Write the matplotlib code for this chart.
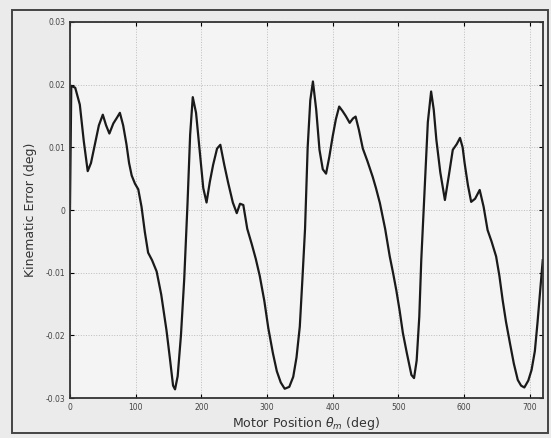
import numpy as np
import matplotlib
matplotlib.use('Agg')
import matplotlib.pyplot as plt
from matplotlib.patches import Rectangle

# motor position (deg) and kinematic error (deg)
motor_pos = [0, 2, 8, 15, 21, 27, 32, 38, 44, 50, 55, 60, 66, 72, 76, 81, 86, 90, 94, 99,
             104, 109, 114, 119, 125, 132, 139, 147, 152, 157, 160, 164, 169, 174, 179, 183, 187,
             192, 198, 203, 208, 213, 218, 224, 229, 235, 241, 248, 254, 259, 264, 270, 277,
             283, 289, 296, 302, 309, 315, 321, 327, 334, 340, 345, 350, 354, 358, 362, 366, 370,
             375, 380, 385, 390, 395, 400, 405, 410, 415, 420, 426, 431, 435, 440, 446, 453,
             461, 466, 472, 480, 487, 492, 497, 502, 507, 513, 520, 524, 528, 532, 535, 540,
             545, 550,
             554, 558, 564, 571, 577, 583, 589, 594, 598, 601, 606, 611, 617, 624, 630, 636,
             642, 649, 654, 659, 664, 670, 676, 682, 687, 692, 698, 703, 708, 712, 716, 720]
kin_err = [0.0, 0.0198, 0.0195, 0.0168, 0.011, 0.0062, 0.0075, 0.0105, 0.0135, 0.0152,
           0.0135, 0.0122, 0.0138, 0.0148, 0.0155, 0.0135, 0.0105, 0.0075, 0.0055, 0.0042,
           0.0033, 0.0005, -0.0035, -0.0068, -0.0080, -0.0098, -0.0135, -0.0192, -0.0235,
           -0.0280, -0.0286, -0.0265, -0.0200, -0.0110, 0.0010, 0.0120, 0.0180,
           0.0155, 0.0090, 0.0035, 0.0012, 0.0045, 0.0072, 0.0098, 0.0104, 0.0072, 0.0043,
           0.0012, -0.0005, 0.0010, 0.0008, -0.0030, -0.0055, -0.0078, -0.0105, -0.0145,
           -0.0188, -0.0228, -0.0257, -0.0275, -0.0285, -0.0282, -0.0266, -0.0235, -0.0186,
           -0.0110, -0.0030, 0.0100, 0.0175, 0.0205,
           0.0160, 0.0096, 0.0065, 0.0058, 0.0085, 0.0117, 0.0145, 0.0165, 0.0158, 0.0150,
           0.0139, 0.0146, 0.0149, 0.0128, 0.0098, 0.0078, 0.0053, 0.0035, 0.0011, -0.0030,
           -0.0074, -0.0100, -0.0128, -0.0160, -0.0196, -0.0228, -0.0263, -0.0268, -0.0240,
           -0.0170, -0.0080, 0.0030, 0.0140, 0.0189,
           0.0160, 0.0112, 0.0060, 0.0016, 0.0055, 0.0096, 0.0105, 0.0115, 0.0100, 0.0075,
           0.0040, 0.0013, 0.0018, 0.0032, 0.0005, -0.0032, -0.0050, -0.0074, -0.0105,
           -0.0144, -0.0178, -0.0212, -0.0245, -0.0271, -0.0280, -0.0283, -0.0272, -0.0255,
           -0.0225, -0.0180, -0.0130, -0.0080]

x_ticks = [0, 100, 200, 300, 400, 500, 600, 700]
y_ticks = [-0.03, -0.02, -0.01, 0, 0.01, 0.02, 0.03]
y_labels = ['-0.03', '-0.02', '-0.01', '0', '0.01', '0.02', '0.03']

fig = plt.figure(figsize=(5.51, 4.38), dpi=100, facecolor='#ebebeb')
ax = fig.add_axes([0.127, 0.091, 0.858, 0.859])
ax.set_facecolor('#f4f4f4')

ax.plot(motor_pos, kin_err, color='#1a1a1a', lw=1.6)

ax.set_xlim(0, 720)
ax.set_ylim(-0.03, 0.03)
ax.set_xticks(x_ticks)
ax.set_yticks(y_ticks)
ax.set_yticklabels(y_labels)
ax.tick_params(direction='in', top=True, right=True, labelsize=5.5,
               labelcolor='#444444', length=3, width=0.8)
ax.grid(True, linestyle=':', color='#bdbdbd', lw=0.7)
for s in ax.spines.values():
    s.set_linewidth(1.3)
    s.set_color('#333333')

ax.set_xlabel(r'Motor Position $\theta_m$ (deg)', fontsize=9, color='#333333', labelpad=2)
ax.set_ylabel('Kinematic Error (deg)', fontsize=9, color='#333333', labelpad=6)

# frame around the whole figure
fig.patches.append(Rectangle((0.022, 0.012), 0.973, 0.965, transform=fig.transFigure,
                             fill=False, lw=1.4, edgecolor='#444444'))

fig.savefig('out.png', dpi=100, facecolor=fig.get_facecolor())
